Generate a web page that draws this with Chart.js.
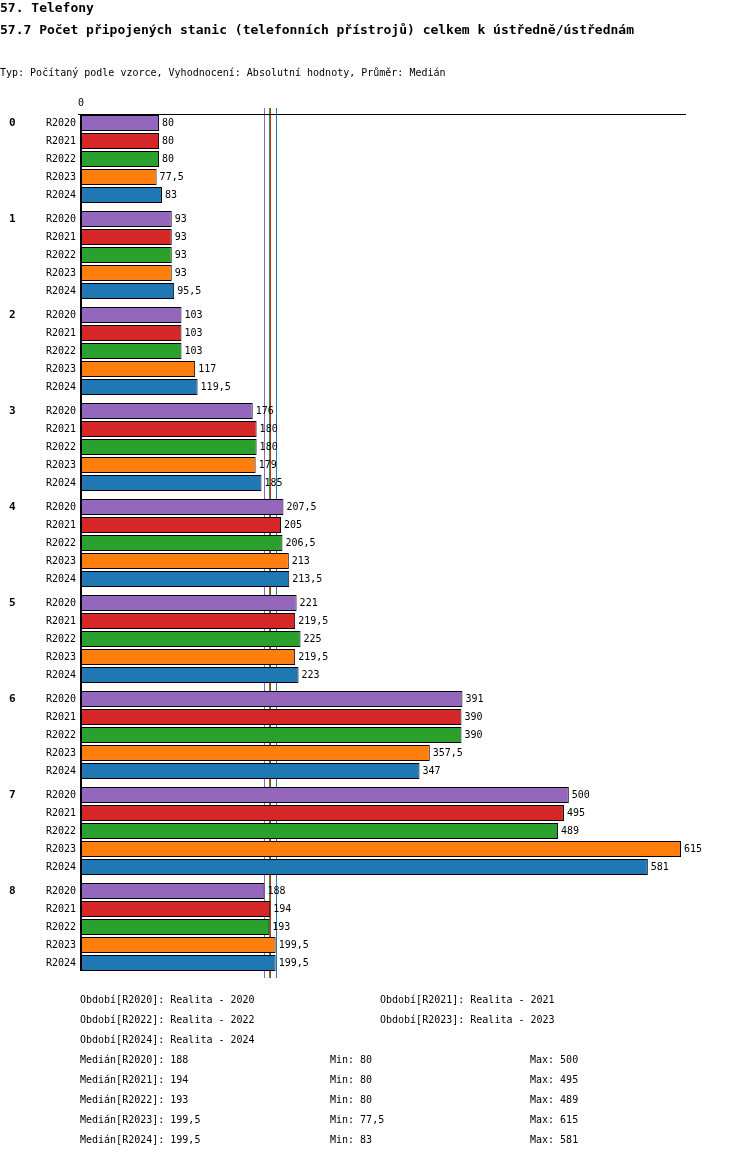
<!DOCTYPE html>
<html><head><meta charset="utf-8">
<script src="https://cdn.jsdelivr.net/npm/chart.js@4"></script>
<style>
body{margin:0;background:#fff;width:750px;height:1158px;overflow:hidden;position:relative;font-family:"DejaVu Sans Mono",monospace;}
.t{position:absolute;white-space:nowrap;color:#000;font-size:10px;}
canvas{position:absolute;left:0;top:0;}
</style></head><body>
<canvas id="c" width="750" height="1158"></canvas>
<div class="t" style="left:0;top:0;font-size:13px;font-weight:bold">57. Telefony</div>
<div class="t" style="left:0;top:22px;font-size:13px;font-weight:bold">57.7 Počet připojených stanic (telefonních přístrojů) celkem k ústředně/ústřednám</div>
<div class="t" style="left:0;top:67px">Typ: Počítaný podle vzorce, Vyhodnocení: Absolutní hodnoty, Průměr: Medián</div>
<div id="bot"></div>
<script>
const groups = ["0","1","2","3","4","5","6","7","8"];
const seriesNames = ["R2020","R2021","R2022","R2023","R2024"];
const colors = ["#9467bd","#d62728","#2ca02c","#ff7f0e","#1f77b4"];
const R2020 = [80,93,103,176,207.5,221,391,500,188];
const R2021 = [80,93,103,180,205,219.5,390,495,194];
const R2022 = [80,93,103,180,206.5,225,390,489,193];
const R2023 = [77.5,93,117,179,213,219.5,357.5,615,199.5];
const R2024 = [83,95.5,119.5,185,213.5,223,347,581,199.5];
const medians = [188,194,193,199.5,199.5];
const mins = ["80","80","80","77,5","83"];
const maxs = ["500","495","489","615","581"];
const values = [R2020,R2021,R2022,R2023,R2024];
const fmt = v => String(v).replace('.', ',');

const bot = document.getElementById('bot');
const legendRows = [[0,1],[2,3],[4]];
legendRows.forEach((r,i)=>r.forEach((s,j)=>{
  const d=document.createElement('div');d.className='t';
  d.style.left=(j?380:80)+'px';d.style.top=(994+i*20)+'px';
  d.textContent='Období['+seriesNames[s]+']: Realita - '+seriesNames[s].slice(1);
  bot.appendChild(d);
}));
seriesNames.forEach((s,i)=>{
  [[80,'Medián['+s+']: '+fmt(medians[i])],[330,'Min: '+mins[i]],[530,'Max: '+maxs[i]]].forEach(([x,t])=>{
    const d=document.createElement('div');d.className='t';
    d.style.left=x+'px';d.style.top=(1054+i*20)+'px';d.textContent=t;bot.appendChild(d);
  });
});

const deco = {
  id:'deco',
  beforeDatasetsDraw(chart){
    const ctx=chart.ctx, xs=chart.scales.x, a=chart.chartArea;
    ctx.save();
    medians.forEach((m,i)=>{
      const x=Math.round(xs.getPixelForValue(m))+0.5;
      ctx.strokeStyle=colors[i];ctx.lineWidth=1;
      ctx.beginPath();ctx.moveTo(x,a.top-3);ctx.lineTo(x,a.bottom+3);ctx.stroke();
    });
    ctx.restore();
  },
  afterDatasetsDraw(chart){
    const ctx=chart.ctx, a=chart.chartArea;
    ctx.save();
    ctx.strokeStyle='#000';
    ctx.lineWidth=1;
    ctx.beginPath();ctx.moveTo(a.left-3,114.5);ctx.lineTo(686,114.5);ctx.stroke();
    ctx.lineWidth=2;
    ctx.beginPath();ctx.moveTo(a.left,114);ctx.lineTo(a.left,a.bottom-4);ctx.stroke();
    ctx.fillStyle='#000';
    ctx.font='10px "DejaVu Sans Mono"';
    ctx.textBaseline='middle';
    ctx.textAlign='center';
    ctx.fillText('0',a.left,103);
    chart.data.datasets.forEach((ds,di)=>{
      const meta=chart.getDatasetMeta(di);
      meta.data.forEach((bar,gi)=>{
        ctx.textAlign='left';
        ctx.fillText(fmt(ds.data[gi]),bar.x+3,bar.y);
        ctx.textAlign='right';
        ctx.fillText(seriesNames[di],76,bar.y);
        if(di===0){
          ctx.font='bold 11px "DejaVu Sans Mono"';ctx.textAlign='left';
          ctx.fillText(groups[gi],9,bar.y);
          ctx.font='10px "DejaVu Sans Mono"';
        }
      });
    });
    ctx.restore();
  }
};

new Chart(document.getElementById('c'),{
  type:'bar',
  data:{labels:groups,datasets:values.map((v,i)=>({label:seriesNames[i],data:v,backgroundColor:colors[i],borderColor:'#000',borderWidth:1,borderSkipped:false,categoryPercentage:90/96,barPercentage:16/18}))},
  options:{indexAxis:'y',responsive:false,animation:false,devicePixelRatio:1,
    layout:{padding:{left:81,right:69,top:111,bottom:183}},
    plugins:{legend:{display:false},tooltip:{enabled:false}},
    scales:{x:{display:false,min:0,max:615},y:{display:false}}},
  plugins:[deco]
});
</script></body></html>
